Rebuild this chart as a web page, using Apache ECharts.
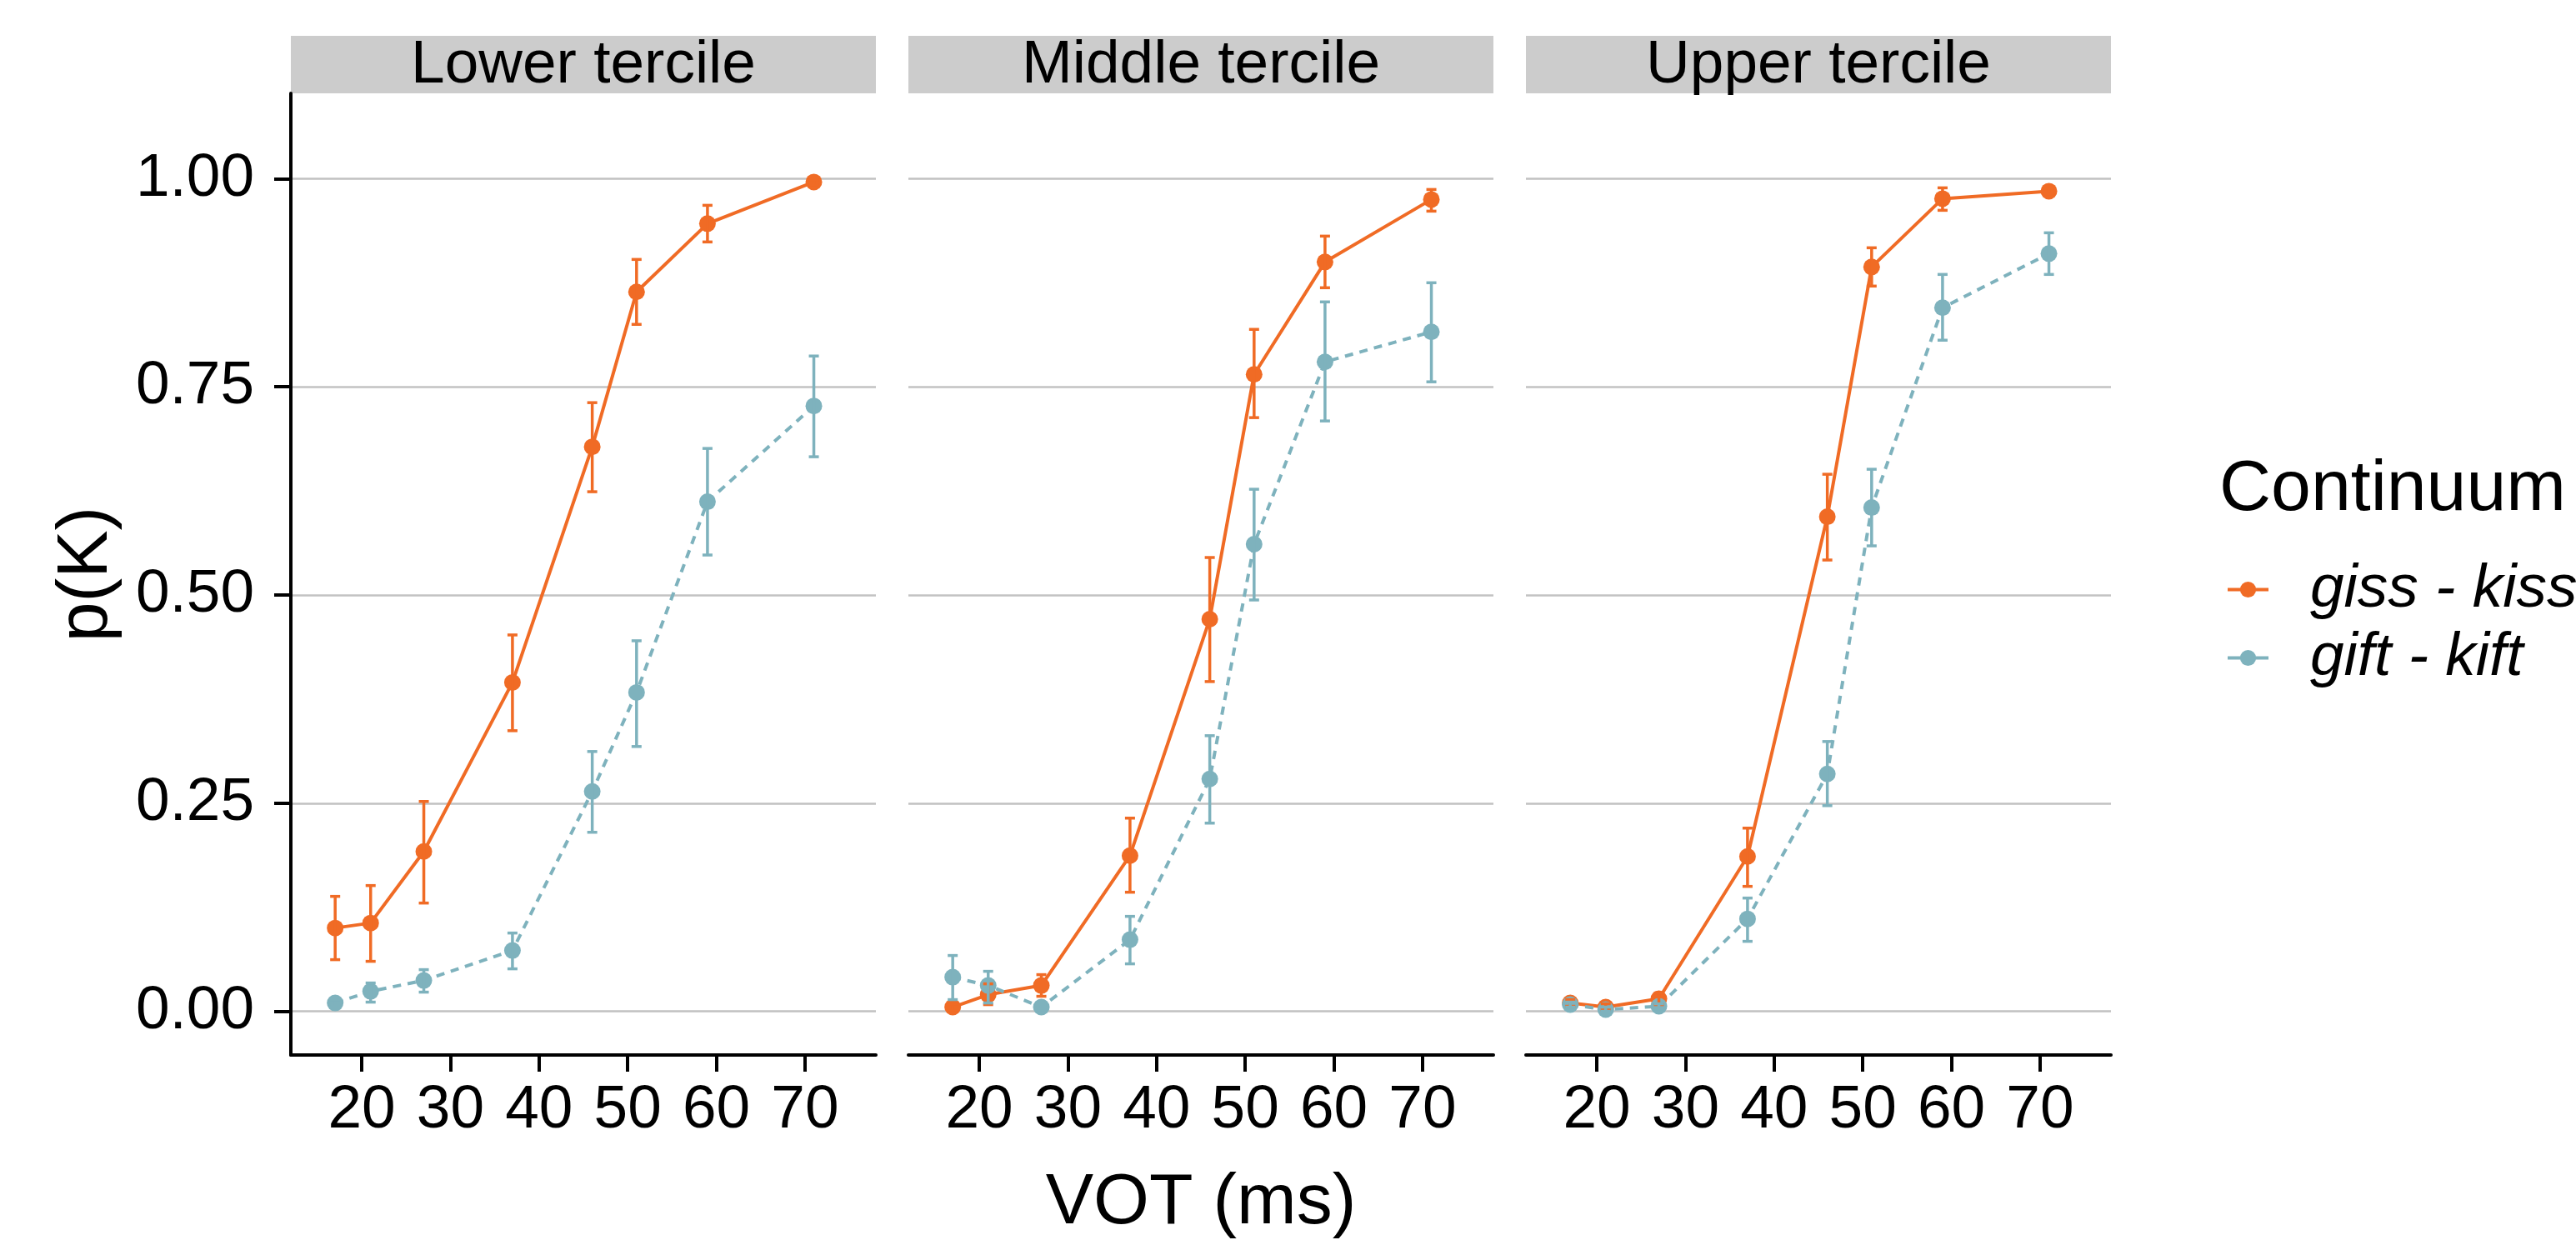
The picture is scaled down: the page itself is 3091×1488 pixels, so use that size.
<!DOCTYPE html>
<html>
<head>
<meta charset="utf-8">
<title>p(K) by VOT</title>
<script src="https://cdn.jsdelivr.net/npm/echarts@6/dist/echarts.min.js"></script>
<style>
    html, body { margin: 0; padding: 0; background: #fff; }
    #main { width: 3091px; height: 1488px; }
</style>
</head>
<body>
<div id="main"></div>
<script>
// data
var panels = ['Lower tercile', 'Middle tercile', 'Upper tercile'];
var seriesNames = ['giss - kiss', 'gift - kift'];
var vot = [17, 21, 27, 37, 46, 51, 59, 71];
var xTicks = [20, 30, 40, 50, 60, 70];
var yTicks = [0, 0.25, 0.5, 0.75, 1];

var kissLower   = [0.100, 0.106, 0.192, 0.395, 0.678, 0.864, 0.946, 0.996];
var kissLowerLo = [0.062, 0.060, 0.130, 0.337, 0.624, 0.825, 0.924, 0.993];
var kissLowerHi = [0.138, 0.151, 0.252, 0.452, 0.731, 0.903, 0.968, 0.999];
var giftLower   = [0.010, 0.024, 0.037, 0.073, 0.264, 0.383, 0.612, 0.727];
var giftLowerLo = [0.006, 0.011, 0.023, 0.051, 0.215, 0.318, 0.548, 0.666];
var giftLowerHi = [0.014, 0.034, 0.050, 0.094, 0.312, 0.445, 0.676, 0.787];

var kissMiddle   = [0.005, 0.020, 0.031, 0.187, 0.471, 0.765, 0.900, 0.975];
var kissMiddleLo = [0.002, 0.008, 0.018, 0.143, 0.396, 0.713, 0.869, 0.961];
var kissMiddleHi = [0.009, 0.033, 0.044, 0.232, 0.545, 0.819, 0.931, 0.987];
var giftMiddle   = [0.041, 0.031, 0.005, 0.086, 0.279, 0.561, 0.780, 0.816];
var giftMiddleLo = [0.014, 0.010, 0.002, 0.057, 0.226, 0.494, 0.709, 0.756];
var giftMiddleHi = [0.067, 0.048, 0.008, 0.114, 0.331, 0.627, 0.852, 0.875];

var kissUpper   = [0.010, 0.005, 0.015, 0.186, 0.594, 0.894, 0.976, 0.985];
var kissUpperLo = [0.006, 0.002, 0.008, 0.150, 0.542, 0.871, 0.962, 0.982];
var kissUpperHi = [0.014, 0.009, 0.022, 0.220, 0.645, 0.917, 0.989, 0.988];
var giftUpper   = [0.008, 0.002, 0.006, 0.111, 0.285, 0.605, 0.845, 0.910];
var giftUpperLo = [0.005, 0.000, 0.003, 0.084, 0.247, 0.559, 0.806, 0.885];
var giftUpperHi = [0.011, 0.005, 0.009, 0.136, 0.324, 0.651, 0.885, 0.935];

var kiss = [[kissLower, kissLowerLo, kissLowerHi], [kissMiddle, kissMiddleLo, kissMiddleHi], [kissUpper, kissUpperLo, kissUpperHi]];
var gift = [[giftLower, giftLowerLo, giftLowerHi], [giftMiddle, giftMiddleLo, giftMiddleHi], [giftUpper, giftUpperLo, giftUpperHi]];

var ORANGE = '#F06B25';
var BLUE = '#7EB2BD';
var FONT = 'Liberation Sans';

var dom = document.getElementById('main');
var myChart = echarts.init(dom, null, {renderer: 'canvas'});

// panel layout
var panelLeft = [349, 1090, 1831];
var panelWidth = 702;
var panelTop = 112;
var panelHeight = 1154;
var stripHeight = 69;

function points(vals) {
    return vot.map(function (x, i) { return [x, vals[i]]; });
}

function bars(lo, hi) {
    return vot.map(function (x, i) { return [x, lo[i], hi[i]]; });
}

function errorBar(color) {
    return function (params, api) {
        var x = api.value(0);
        var lo = api.coord([x, api.value(1)]);
        var hi = api.coord([x, api.value(2)]);
        var half = 6;
        var style = {stroke: color, lineWidth: 3.5};
        return {
            type: 'group',
            children: [
                {type: 'line', shape: {x1: lo[0], y1: lo[1], x2: hi[0], y2: hi[1]}, style: style},
                {type: 'line', shape: {x1: hi[0] - half, y1: hi[1], x2: hi[0] + half, y2: hi[1]}, style: style},
                {type: 'line', shape: {x1: lo[0] - half, y1: lo[1], x2: lo[0] + half, y2: lo[1]}, style: style}
            ]
        };
    };
}

var grids = [], xAxes = [], yAxes = [], series = [], graphics = [];

panels.forEach(function (name, p) {
    grids.push({left: panelLeft[p], top: panelTop, width: panelWidth, height: panelHeight, containLabel: false});

    xAxes.push({
        gridIndex: p, type: 'value', min: 12, max: 78,
        axisLine: {show: true, onZero: false, lineStyle: {color: '#000', width: 4}},
        axisTick: {show: true, length: 20, customValues: xTicks, lineStyle: {color: '#000', width: 4}},
        axisLabel: {customValues: xTicks, fontSize: 73, fontFamily: FONT, color: '#000', margin: 30},
        splitLine: {show: false},
        z: 3
    });

    yAxes.push({
        gridIndex: p, type: 'value', min: -0.0525, max: 1.1025,
        axisLine: {show: p === 0, onZero: false, lineStyle: {color: '#000', width: 4}},
        axisTick: {show: p === 0, length: 20, customValues: yTicks, lineStyle: {color: '#000', width: 4}},
        axisLabel: {
            show: p === 0, customValues: yTicks, fontSize: 73, fontFamily: FONT, color: '#000', margin: 44,
            formatter: function (v) { return v.toFixed(2); }
        },
        splitLine: {show: false},
        z: 3
    });

    series.push({
        name: seriesNames[0], type: 'line', xAxisIndex: p, yAxisIndex: p,
        data: points(kiss[p][0]),
        symbol: 'circle', symbolSize: 20, showSymbol: true,
        lineStyle: {color: ORANGE, width: 4, type: 'solid'},
        itemStyle: {color: ORANGE},
        z: 3,
        markLine: {
            silent: true, symbol: 'none', z: 1, animation: false,
            label: {show: false},
            lineStyle: {color: '#C2C2C2', width: 2.5, type: 'solid'},
            data: yTicks.map(function (v) { return {yAxis: v}; })
        }
    });
    series.push({
        name: seriesNames[1], type: 'line', xAxisIndex: p, yAxisIndex: p,
        data: points(gift[p][0]),
        symbol: 'circle', symbolSize: 20, showSymbol: true,
        lineStyle: {color: BLUE, width: 4, type: [10, 8]},
        itemStyle: {color: BLUE},
        z: 3
    });
    series.push({
        name: seriesNames[0], type: 'custom', xAxisIndex: p, yAxisIndex: p,
        renderItem: errorBar(ORANGE),
        encode: {x: 0, y: [1, 2]},
        data: bars(kiss[p][1], kiss[p][2]),
        z: 4
    });
    series.push({
        name: seriesNames[1], type: 'custom', xAxisIndex: p, yAxisIndex: p,
        renderItem: errorBar(BLUE),
        encode: {x: 0, y: [1, 2]},
        data: bars(gift[p][1], gift[p][2]),
        z: 4
    });

    // facet strip
    graphics.push({
        type: 'rect', left: panelLeft[p], top: panelTop - stripHeight,
        shape: {width: panelWidth, height: stripHeight},
        style: {fill: '#CCCCCC'}
    });
    graphics.push({
        type: 'text', x: panelLeft[p] + panelWidth / 2, y: panelTop - stripHeight / 2 + 1,
        style: {text: name, fontSize: 73, fontFamily: FONT, fill: '#000', align: 'center', verticalAlign: 'middle'}
    });
});

// axis titles and legend title
graphics.push({
    type: 'text', x: (panelLeft[0] + panelLeft[2] + panelWidth) / 2, y: 1444,
    style: {text: 'VOT (ms)', fontSize: 86, fontFamily: FONT, fill: '#000', align: 'center', verticalAlign: 'middle'}
});
graphics.push({
    type: 'text', x: 104, y: panelTop + panelHeight / 2, rotation: Math.PI / 2,
    style: {text: 'p(K)', fontSize: 86, fontFamily: FONT, fill: '#000', align: 'center', verticalAlign: 'middle'}
});
graphics.push({
    type: 'text', x: 2663, y: 588,
    style: {text: 'Continuum', fontSize: 86, fontFamily: FONT, fill: '#000', align: 'left', verticalAlign: 'middle'}
});

var option = {
    backgroundColor: '#fff',
    animation: false,
    grid: grids,
    xAxis: xAxes,
    yAxis: yAxes,
    legend: {
        orient: 'vertical', left: 2666, top: 666,
        itemWidth: 49, itemHeight: 24, itemGap: 9,
        selectedMode: false,
        textStyle: {fontSize: 73, fontStyle: 'italic', fontFamily: FONT, color: '#000', padding: [0, 0, 0, 45]},
        data: [
            {name: seriesNames[0], lineStyle: {type: 'solid', width: 4}},
            {name: seriesNames[1], lineStyle: {type: 'solid', width: 4}}
        ]
    },
    graphic: graphics,
    series: series
};

myChart.setOption(option);
</script>
</body>
</html>
